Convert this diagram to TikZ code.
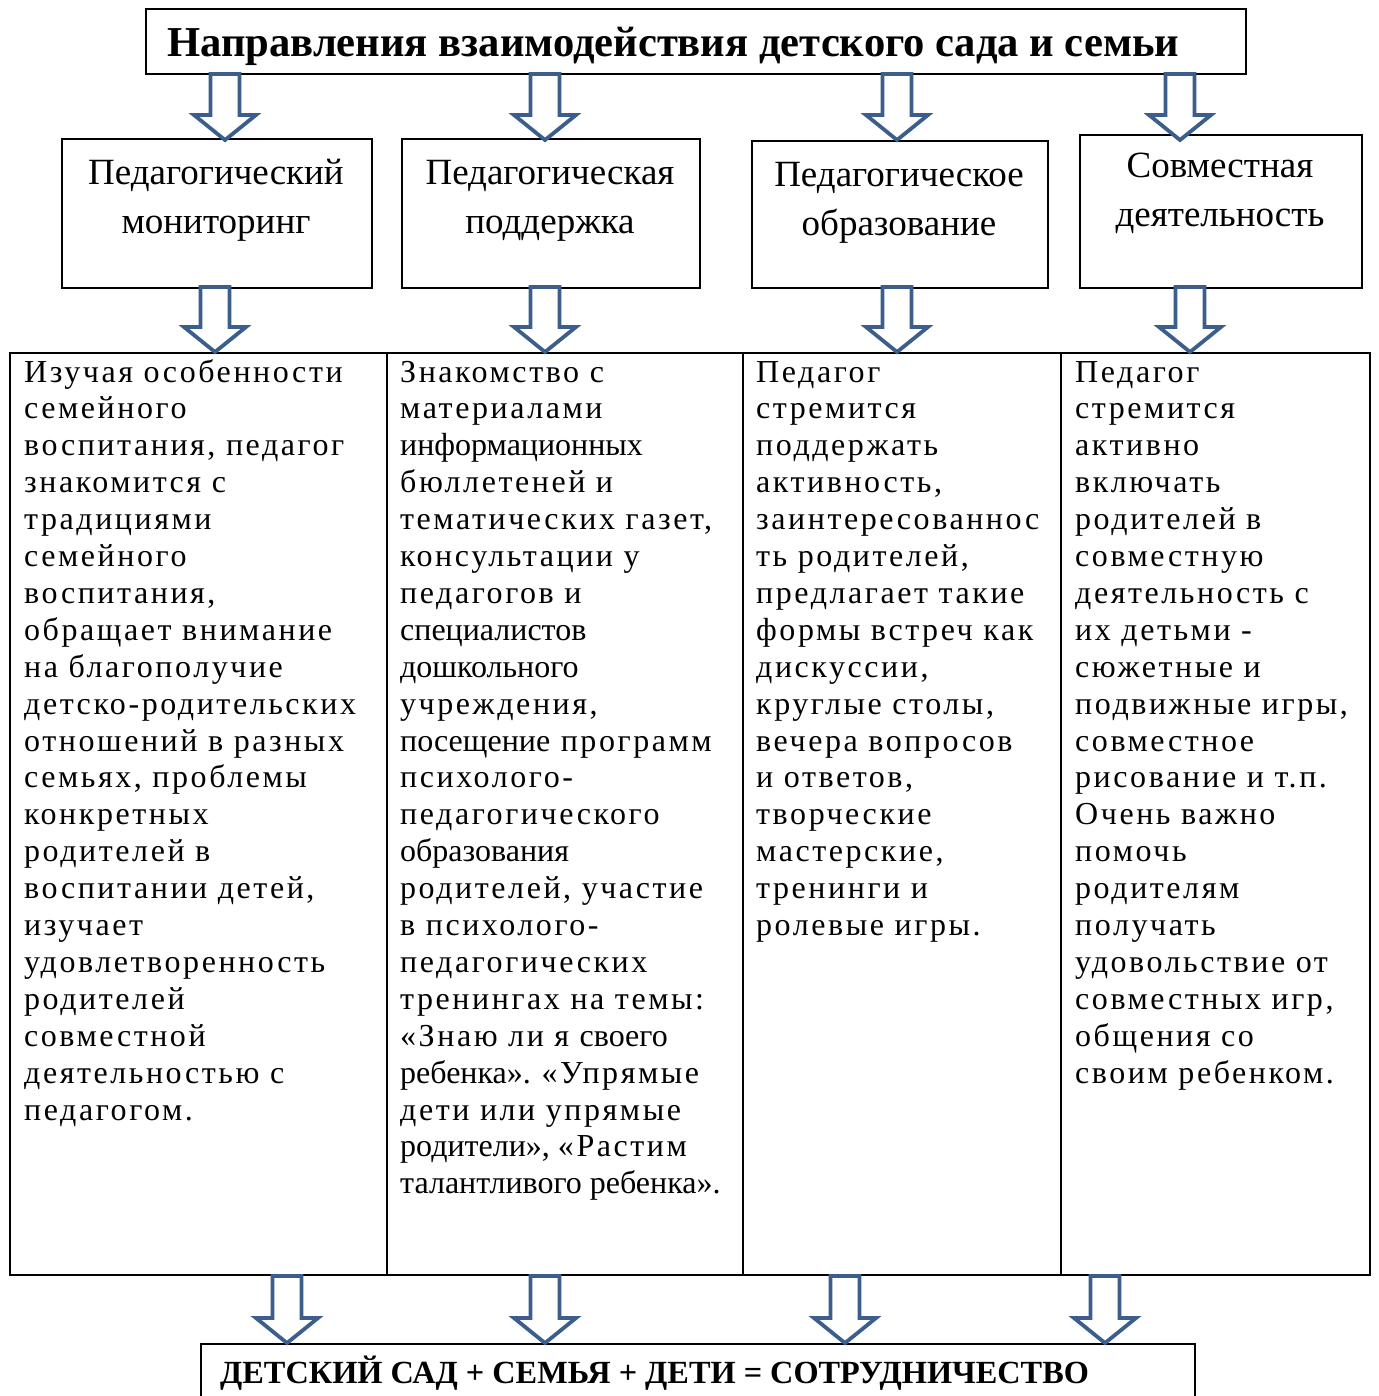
\documentclass[tikz,border=0pt]{standalone}
\usepackage{fontspec}
\setmainfont{Liberation Serif}
\newfontfamily\lsf[LetterSpace=8]{Liberation Serif}
\usetikzlibrary{calc}
\definecolor{arrowblue}{RGB}{60,94,140}
\newcommand\nrm[1]{{\rmfamily #1}}
\newcommand\barrow[2]{\draw[barrowst] let \p1=(#1), \p2=(#2) in
  (\x1-14.5pt,\y1) -- (\x1+14.5pt,\y1) -- (\x1+14.5pt,\y2+25pt) -- (\x1+31pt,\y2+25pt)
  -- (\x2,\y2) -- (\x1-31pt,\y2+25pt) -- (\x1-14.5pt,\y2+25pt) -- cycle;}
\newcommand\coltext[2]{\parbox[t]{#1}{\raggedright\fontsize{32}{36.9}\lsf #2}}
\newcommand\boxtext[1]{\parbox[t]{320pt}{\centering\fontsize{37}{49}\selectfont #1}}
\tikzset{
  box/.style={draw, line width=1.6pt, inner sep=0pt, anchor=north west},
  barrowst/.style={draw=arrowblue, line width=3.8pt, fill=white, line join=miter},
  txt/.style={inner sep=0pt, anchor=base},
  ctxt/.style={inner sep=0pt, anchor=base west}
}
\begin{document}
\begin{tikzpicture}[x=1pt,y=-1pt]
\useasboundingbox[fill=white] (0,0) rectangle (1378,1396);
% title
\node[box, minimum width=1100pt, minimum height=65pt] (title) at (145,8) {};
\node[ctxt] (titletext) at (167,57) {\fontsize{42.6}{48}\selectfont\bfseries Направления взаимодействия детского сада и семьи};
% second row boxes
\node[box, minimum width=310pt, minimum height=149pt] (b1) at (61,138) {};
\node[box, minimum width=298pt, minimum height=149pt] (b2) at (401,138) {};
\node[box, minimum width=296pt, minimum height=147pt] (b3) at (751,140) {};
\node[box, minimum width=282pt, minimum height=153pt] (b4) at (1079,134) {};
\node[txt] (b1t) at (216,185) {\boxtext{Педагогический\\мониторинг}};
\node[txt] (b2t) at (550,185) {\boxtext{Педагогическая\\поддержка}};
\node[txt] (b3t) at (899,187) {\boxtext{Педагогическое\\образование}};
\node[txt] (b4t) at (1220,178) {\boxtext{Совместная\\деятельность}};
% columns
\node[box, minimum width=377pt, minimum height=922pt] (c1) at (9,352) {};
\node[box, minimum width=356pt, minimum height=922pt] (c2) at (386,352) {};
\node[box, minimum width=318pt, minimum height=922pt] (c3) at (742,352) {};
\node[box, minimum width=309pt, minimum height=922pt] (c4) at (1060,352) {};
\node[ctxt] (c1t) at (24,382) {\coltext{360pt}{Изучая особенности\\семейного\\воспитания, педагог\\знакомится с\\традициями\\семейного\\воспитания,\\обращает внимание\\на благополучие\\детско-родительских\\отношений в разных\\семьях, проблемы\\конкретных\\родителей в\\воспитании детей,\\изучает\\удовлетворенность\\родителей\\совместной\\деятельностью с\\педагогом.}};
\node[ctxt] (c2t) at (400,382) {\coltext{345pt}{Знакомство с\\материалами\\\nrm{информационных}\\бюллетеней и\\тематических газет,\\консультации у\\педагогов и\\\nrm{специалистов}\\\nrm{дошкольного}\\учреждения,\\\nrm{посещение} программ\\психолого-\\педагогического\\\nrm{образования}\\родителей, участие\\\nrm{в} психолого-\\педагогических\\тренингах на темы:\\«Знаю ли я \nrm{своего}\\\nrm{ребенка». }«Упрямые\\дети или упрямые\\\nrm{родители», }«Растим\\\nrm{талантливого ребенка».}}};
\node[ctxt] (c3t) at (756,382) {\coltext{310pt}{Педагог\\стремится\\поддержать\\активность,\\заинтересованнос\\ть родителей,\\предлагает такие\\формы встреч как\\дискуссии,\\круглые столы,\\вечера вопросов\\и ответов,\\творческие\\мастерские,\\тренинги и\\ролевые игры.}};
\node[ctxt] (c4t) at (1075,382) {\coltext{300pt}{Педагог\\стремится\\активно\\включать\\родителей в\\совместную\\деятельность с\\их детьми -\\сюжетные и\\подвижные игры,\\совместное\\рисование и т.п.\\Очень важно\\помочь\\родителям\\получать\\удовольствие от\\совместных игр,\\общения со\\своим ребенком.}};
% bottom box
\node[box, minimum width=994pt, minimum height=60pt] (bot) at (200,1343) {};
\node[ctxt] (bottext) at (220,1383) {\fontsize{32.3}{38}\selectfont\bfseries ДЕТСКИЙ САД + СЕМЬЯ + ДЕТИ = СОТРУДНИЧЕСТВО};
% arrow coordinates
\coordinate (ta1) at (225,74);  \coordinate (tb1) at (225,140);
\coordinate (ta2) at (545,74);  \coordinate (tb2) at (545,140);
\coordinate (ta3) at (897,74);  \coordinate (tb3) at (897,140);
\coordinate (ta4) at (1180,74); \coordinate (tb4) at (1180,140);
\coordinate (ma1) at (215,287); \coordinate (mb1) at (215,352);
\coordinate (ma2) at (545,287); \coordinate (mb2) at (545,352);
\coordinate (ma3) at (897,287); \coordinate (mb3) at (897,352);
\coordinate (ma4) at (1190,287);\coordinate (mb4) at (1190,352);
\coordinate (la1) at (287,1276); \coordinate (lb1) at (287,1343);
\coordinate (la2) at (545,1276); \coordinate (lb2) at (545,1343);
\coordinate (la3) at (845,1276); \coordinate (lb3) at (845,1343);
\coordinate (la4) at (1105,1276);\coordinate (lb4) at (1105,1343);
\foreach \i in {1,...,4}{\barrow{ta\i}{tb\i}\barrow{ma\i}{mb\i}\barrow{la\i}{lb\i}}
\end{tikzpicture}
\end{document}
